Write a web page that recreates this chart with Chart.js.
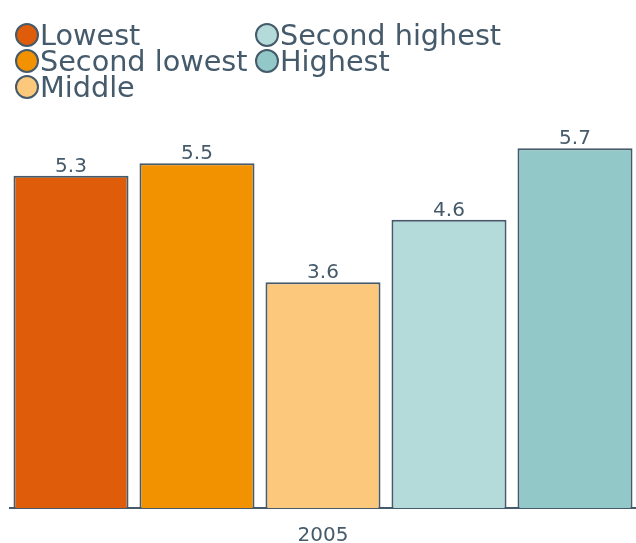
<!DOCTYPE html>
<html>
<head>
<meta charset="utf-8">
<script src="https://cdn.jsdelivr.net/npm/chart.js@4"></script>
<style>
    html, body { margin: 0; padding: 0; background: #fff; overflow: hidden; }
    #wrap { position: relative; width: 636px; height: 543px; }
    #legend { position: absolute; left: 15px; top: 22px; font-family: "DejaVu Sans"; font-size: 28.7px; color: #455a6a; }
    .col { position: absolute; top: 0; white-space: nowrap; }
    .item { display: flex; align-items: center; height: 26px; line-height: 26px; }
    .dot { box-sizing: border-box; width: 24px; height: 24px; border: 2.5px solid #455a6a; border-radius: 50%; margin-right: 1px; flex: none; }
</style>
</head>
<body>
<div id="wrap">
    <canvas id="chart" width="636" height="543"></canvas>
    <div id="legend"></div>
</div>
<script>
const categories = ["2005"];
const seriesNames = ["Lowest", "Second lowest", "Middle", "Second highest", "Highest"];
const seriesValues = [5.3, 5.5, 3.6, 4.6, 5.74];
const seriesColors = ["#de5c0a", "#f39200", "#fcc97c", "#b4dad9", "#93c8c8"];

const ink = "#455a6a";
Chart.defaults.font.family = "DejaVu Sans";
Chart.defaults.color = ink;

const valueLabels = {
    id: "valueLabels",
    afterDatasetsDraw(chart) {
        const ctx = chart.ctx;
        ctx.save();
        ctx.font = "20px 'DejaVu Sans'";
        ctx.fillStyle = ink;
        ctx.textAlign = "center";
        ctx.textBaseline = "alphabetic";
        chart.data.datasets.forEach((ds, i) => {
            const bar = chart.getDatasetMeta(i).data[0];
            ctx.fillText(ds.data[0].toFixed(1), bar.x, bar.y - 4);
        });
        ctx.restore();
    }
};

const chart = new Chart(document.getElementById("chart"), {
    type: "bar",
    data: {
        labels: categories,
        datasets: seriesNames.map((name, i) => ({
            label: name,
            data: [seriesValues[i]],
            backgroundColor: seriesColors[i],
            borderColor: ink,
            borderWidth: 2,
            categoryPercentage: 1.0064,
            barPercentage: 0.913
        }))
    },
    options: {
        responsive: false,
        animation: false,
        layout: { padding: { left: 10, right: 0, top: 102.4, bottom: 0 } },
        plugins: {
            legend: { display: false },
            tooltip: { enabled: false }
        },
        scales: {
            x: {
                grid: { display: false, drawTicks: false },
                border: { display: true, color: ink, width: 2 },
                ticks: { color: ink, font: { size: 20 }, padding: 16 },
                afterFit: (scale) => { scale.height = 35; }
            },
            y: { display: false, min: 0, max: 6.47 }
        }
    },
    plugins: [valueLabels]
});

// legend: three rows per column
const legend = document.getElementById("legend");
const colLeft = [0, 240];
seriesNames.forEach((name, i) => {
    const c = Math.floor(i / 3);
    let col = legend.querySelector(".c" + c);
    if (!col) {
        col = document.createElement("div");
        col.className = "col c" + c;
        col.style.left = colLeft[c] + "px";
        legend.appendChild(col);
    }
    const item = document.createElement("div");
    item.className = "item";
    item.innerHTML = '<span class="dot" style="background:' + seriesColors[i] + '"></span><span>' + name + '</span>';
    col.appendChild(item);
});
</script>
</body>
</html>
